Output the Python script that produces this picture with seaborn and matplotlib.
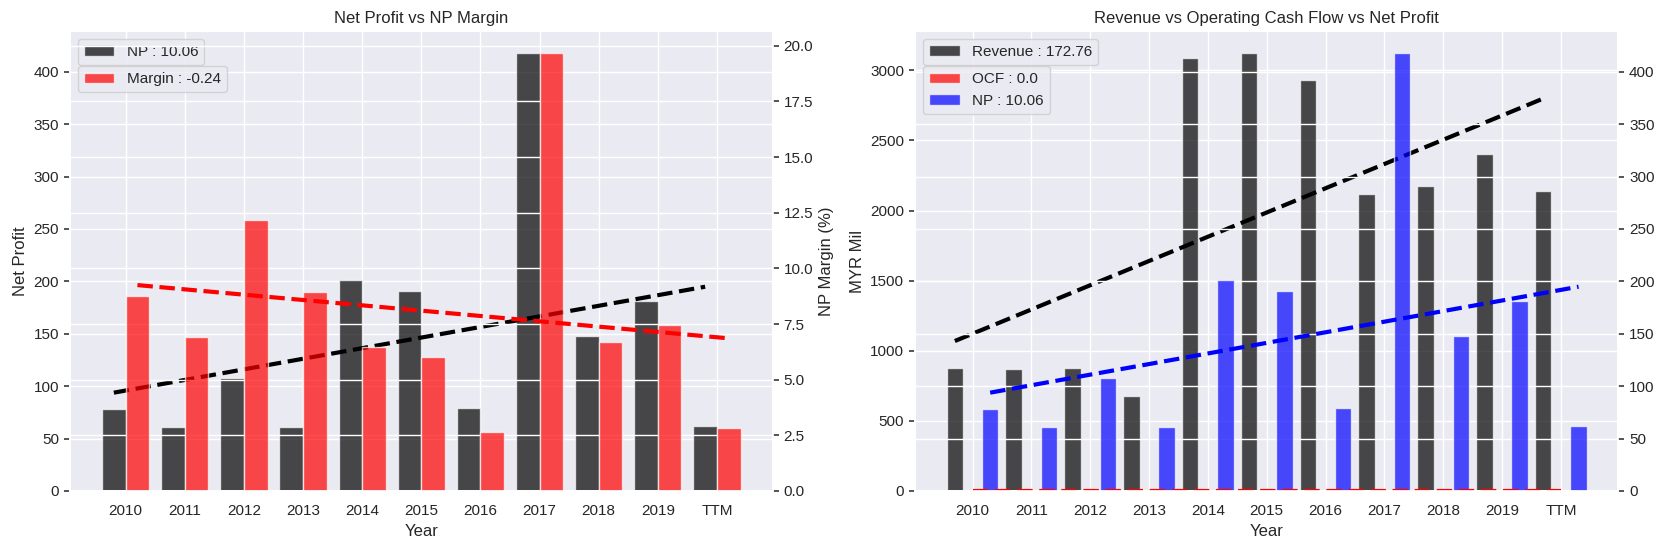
import numpy as np
import matplotlib
matplotlib.use("Agg")
import matplotlib.pyplot as plt
import seaborn as sns

# Values
years = ["2010", "2011", "2012", "2013", "2014", "2015", "2016", "2017", "2018", "2019", "TTM"]
net_profit = [78, 61, 108, 61, 201, 191, 79, 418, 148, 181, 62]
np_margin = [8.76, 6.92, 12.17, 8.94, 6.48, 6.02, 2.65, 19.68, 6.69, 7.45, 2.83]
revenue = [879, 869, 879, 679, 3088, 3124, 2929, 2116, 2173, 2401, 2138]
ocf = [0, 0, 0, 0, 0, 0, 0, 0, 0, 0, 0]

np_label = "NP : 10.06"
margin_label = "Margin : -0.24"
revenue_label = "Revenue : 172.76"
ocf_label = "OCF : 0.0"

sns.set_theme(style="darkgrid")
plt.rcParams["font.family"] = ["Liberation Sans", "DejaVu Sans"]

idx = np.arange(len(years))


def trend(values):
    # linear fit against the year index
    slope, intercept = np.polyfit(idx, values, 1)
    return slope * idx + intercept


def add_trend(ax, xpos, values, color):
    sns.lineplot(x=xpos, y=trend(values), ax=ax, color=color,
                 linestyle="--", linewidth=3)


def style_y(ax, side):
    if side == "left":
        ax.tick_params(axis="y", left=True, length=4.5, width=1.1, color="#262626")
    else:
        ax.tick_params(axis="y", right=True, length=4.5, width=1.1, color="#262626")


fig, (axl, axr) = plt.subplots(1, 2, figsize=(16.68, 5.5), dpi=100)
fig.subplots_adjust(left=0.042, right=0.970, bottom=0.1073, top=0.9436, wspace=0.2034)

# ---- Left: Net Profit vs NP Margin
axl.bar(idx, net_profit, width=-0.4, align="edge", color="black", alpha=0.7, label=np_label)
add_trend(axl, idx - 0.2, net_profit, "black")
axl.set_xticks(idx, years)
axl.set_xlabel("Year")
axl.set_ylabel("Net Profit")
axl.set_title("Net Profit vs NP Margin")
axl.legend(loc="upper left")
style_y(axl, "left")

axl2 = axl.twinx()
axl2.bar(idx, np_margin, width=0.4, align="edge", color="red", alpha=0.7, label=margin_label)
add_trend(axl2, idx + 0.2, np_margin, "red")
axl2.set_ylabel("NP Margin (%)")
axl2.legend(loc="upper left", bbox_to_anchor=(0, 0.94))
style_y(axl2, "right")
axl.set_xlim(-0.94, 10.94)

# ---- Right: Revenue vs OCF vs NP
w = 0.28
axr.bar(idx - 0.3, revenue, width=w, color="black", alpha=0.7, label=revenue_label)
add_trend(axr, idx - 0.3, revenue, "black")
axr.set_xticks(idx, years)
axr.set_xlabel("Year")
axr.set_ylabel("MYR Mil")
axr.set_title("Revenue vs Operating Cash Flow vs Net Profit")
axr.legend(loc="upper left")
style_y(axr, "left")

axr2 = axr.twinx()
axr2.bar(idx, ocf, width=w, color="red", alpha=0.7, label=ocf_label)
axr2.bar(idx + 0.3, net_profit, width=w, color="blue", alpha=0.7, label=np_label)
add_trend(axr2, idx, ocf, "red")
add_trend(axr2, idx + 0.3, net_profit, "blue")
axr2.legend(loc="upper left", bbox_to_anchor=(0, 0.94))
style_y(axr2, "right")
axr.set_xlim(-0.97, 10.97)

fig.savefig("out.png", dpi=100)
